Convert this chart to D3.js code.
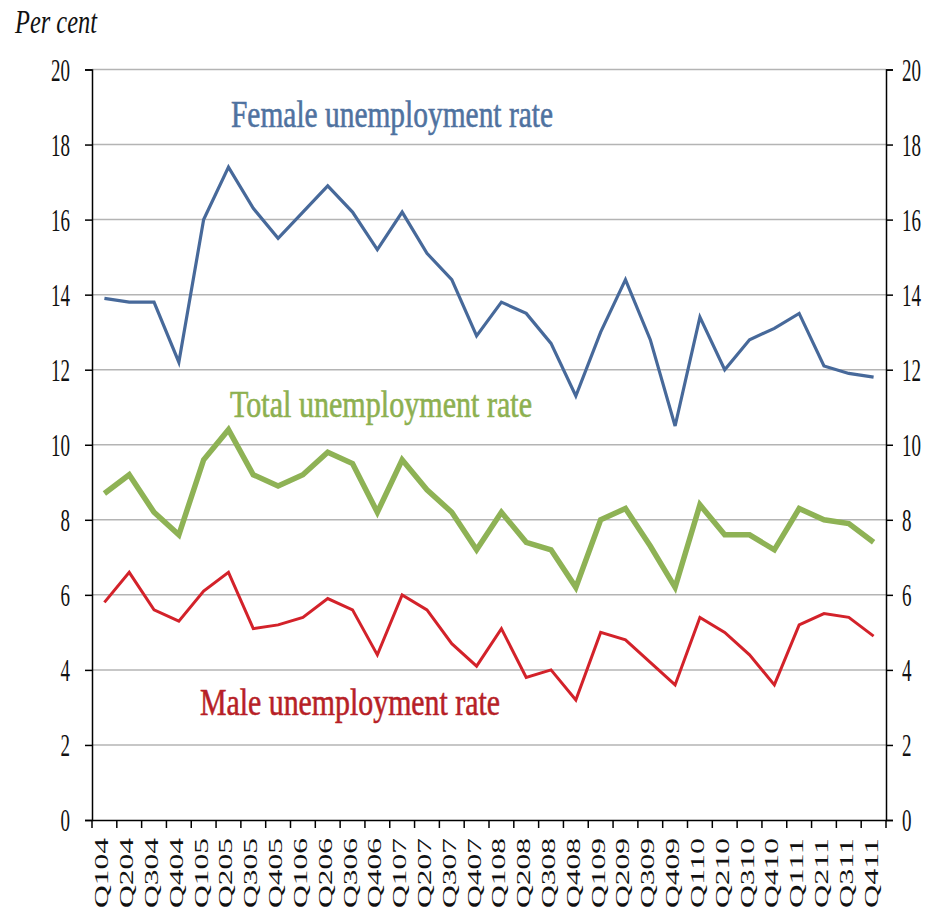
<!DOCTYPE html>
<html>
<head>
<meta charset="utf-8">
<script src="https://cdn.jsdelivr.net/npm/d3@7"></script>
<style>
  html, body { margin: 0; padding: 0; background: #ffffff; }
  svg { display: block; }
</style>
</head>
<body>
<svg id="chart" width="928" height="911"></svg>
<script>
// Quarterly unemployment rates, per cent
const quarters = [
  "Q104","Q204","Q304","Q404","Q105","Q205","Q305","Q405",
  "Q106","Q206","Q306","Q406","Q107","Q207","Q307","Q407",
  "Q108","Q208","Q308","Q408","Q109","Q209","Q309","Q409",
  "Q110","Q210","Q310","Q410","Q111","Q211","Q311","Q411"
];
const femaleRate = [
  13.9, 13.8, 13.8, 12.2, 16.0, 17.4, 16.3, 15.5,
  16.2, 16.9, 16.2, 15.2, 16.2, 15.1, 14.4, 12.9,
  13.8, 13.5, 12.7, 11.3, 13.0, 14.4, 12.8, 10.5,
  13.4, 12.0, 12.8, 13.1, 13.5, 12.1, 11.9, 11.8
];
const totalRate = [
  8.7, 9.2, 8.2, 7.6, 9.6, 10.4, 9.2, 8.9,
  9.2, 9.8, 9.5, 8.2, 9.6, 8.8, 8.2, 7.2,
  8.2, 7.4, 7.2, 6.2, 8.0, 8.3, 7.3, 6.2,
  8.4, 7.6, 7.6, 7.2, 8.3, 8.0, 7.9, 7.4
];
const maleRate = [
  5.8, 6.6, 5.6, 5.3, 6.1, 6.6, 5.1, 5.2,
  5.4, 5.9, 5.6, 4.4, 6.0, 5.6, 4.7, 4.1,
  5.1, 3.8, 4.0, 3.2, 5.0, 4.8, 4.2, 3.6,
  5.4, 5.0, 4.4, 3.6, 5.2, 5.5, 5.4, 4.9
];
const yTicks = [0, 2, 4, 6, 8, 10, 12, 14, 16, 18, 20];
const seriesNames = ["Female unemployment rate", "Total unemployment rate", "Male unemployment rate"];
const axisLabel = "Per cent";

const svg = d3.select("#chart");
const plotLeft = 92, plotRight = 886, plotTop = 69.5, plotBottom = 820;

const x = d3.scaleBand().domain(quarters).range([plotLeft, plotRight]).paddingInner(0).paddingOuter(0);
const y = d3.scaleLinear().domain([0, 20]).range([plotBottom, plotTop]);
const cx = d => x(d) + x.bandwidth() / 2;

const tickFont = "'Liberation Serif', 'DejaVu Serif', serif";

// Horizontal gridlines
svg.append("g")
  .selectAll("line")
  .data(yTicks.filter(v => v > 0))
  .join("line")
  .attr("x1", plotLeft).attr("x2", plotRight)
  .attr("y1", d => y(d)).attr("y2", d => y(d))
  .attr("stroke", "#b4b4b4")
  .attr("stroke-width", 1.5);

// Left value axis
const gLeft = svg.append("g")
  .attr("transform", `translate(${plotLeft},0)`)
  .call(d3.axisLeft(y).tickValues(yTicks).tickSize(7).tickPadding(15).tickFormat(d3.format("d")));

// Right value axis
const gRight = svg.append("g")
  .attr("transform", `translate(${plotRight},0)`)
  .call(d3.axisRight(y).tickValues(yTicks).tickSize(7).tickPadding(9).tickFormat(d3.format("d")));

// Tall, narrow tick digits: a vertical stretch on a modest font size
[gLeft, gRight].forEach(g => {
  g.select(".domain").attr("stroke", "#000").attr("stroke-width", 1.5);
  g.selectAll(".tick line").attr("stroke", "#000").attr("stroke-width", 1.5);
  g.selectAll(".tick text")
    .attr("fill", "#111")
    .style("font-family", tickFont)
    .style("font-size", "22px")
    .attr("dy", "0.33em")
    .attr("transform", "scale(1,1.45)")
    .attr("textLength", d => String(d).length * 9.5)
    .attr("lengthAdjust", "spacingAndGlyphs");
});

// Category axis
const gBottom = svg.append("g")
  .attr("transform", `translate(0,${plotBottom})`)
  .call(d3.axisBottom(x).tickSize(0).tickFormat(""));
gBottom.select(".domain").attr("stroke", "#000").attr("stroke-width", 1.5);

// Tick marks at category boundaries
svg.append("g")
  .selectAll("line")
  .data(d3.range(quarters.length + 1))
  .join("line")
  .attr("x1", i => plotLeft + i * x.step()).attr("x2", i => plotLeft + i * x.step())
  .attr("y1", plotBottom).attr("y2", plotBottom + 8)
  .attr("stroke", "#000").attr("stroke-width", 1.5);

// Rotated quarter labels
svg.append("g")
  .selectAll("text")
  .data(quarters)
  .join("text")
  .attr("transform", d => `translate(${cx(d) + 4},838) rotate(-90)`)
  .attr("text-anchor", "end")
  .style("font-family", tickFont)
  .style("font-size", "18px")
  .attr("fill", "#111")
  .attr("textLength", 70)
  .attr("lengthAdjust", "spacingAndGlyphs")
  .text(d => d);

// Data lines
const line = d3.line()
  .x((d, i) => cx(quarters[i]))
  .y(d => y(d));

const series = [
  { values: totalRate, color: "#8eb255", width: 5.5 },
  { values: femaleRate, color: "#47699a", width: 3.2 },
  { values: maleRate, color: "#d3222a", width: 3 }
];

svg.append("g")
  .selectAll("path")
  .data(series)
  .join("path")
  .attr("d", s => line(s.values))
  .attr("fill", "none")
  .attr("stroke", s => s.color)
  .attr("stroke-width", s => s.width)
  .attr("stroke-linejoin", "miter");

// Series labels
const labels = [
  { text: seriesNames[0], x: 231, y: 127, w: 322, color: "#4f72a0" },
  { text: seriesNames[1], x: 230, y: 417, w: 302, color: "#8db050" },
  { text: seriesNames[2], x: 200, y: 715, w: 300, color: "#b71f27" }
];

svg.append("g")
  .selectAll("text")
  .data(labels)
  .join("text")
  .attr("x", d => d.x)
  .attr("y", d => d.y)
  .attr("fill", d => d.color)
  .attr("stroke", d => d.color)
  .attr("stroke-width", 0.6)
  .style("font-family", tickFont)
  .style("font-size", "37px")
  .attr("textLength", d => d.w)
  .attr("lengthAdjust", "spacingAndGlyphs")
  .text(d => d.text);

// Unit label
svg.append("text")
  .attr("x", 15)
  .attr("y", 33)
  .attr("fill", "#111")
  .style("font-family", tickFont)
  .style("font-style", "italic")
  .style("font-size", "33px")
  .attr("textLength", 82)
  .attr("lengthAdjust", "spacingAndGlyphs")
  .text(axisLabel);
</script>
</body>
</html>
